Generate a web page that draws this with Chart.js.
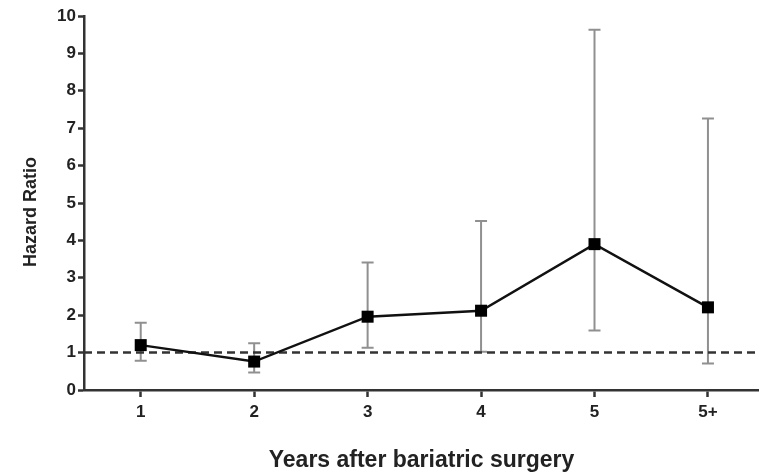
<!DOCTYPE html>
<html>
<head>
<meta charset="utf-8">
<script src="https://cdn.jsdelivr.net/npm/chart.js@4/dist/chart.umd.min.js"></script>
<style>
  html, body { margin: 0; padding: 0; background: #ffffff; }
  #wrap { width: 759px; height: 474px; position: relative; }
</style>
</head>
<body>
<div id="wrap"><canvas id="hazardChart"></canvas></div>
<script>
const yearLabels = ["1", "2", "3", "4", "5", "5+"];
const yearPositions = [1, 2, 3, 4, 5, 6];
const hazardRatio = [1.2, 0.76, 1.96, 2.12, 3.9, 2.21];
const lowerCI = [0.78, 0.47, 1.13, 1.02, 1.59, 0.71];
const upperCI = [1.8, 1.25, 3.41, 4.52, 9.63, 7.26];
const referenceLevel = 1;
const yTicks = [0, 1, 2, 3, 4, 5, 6, 7, 8, 9, 10];
const yTitle = "Hazard Ratio";

const axisColor = "#333333";
const textColor = "#222222";
const fontFamily = "'Liberation Sans', Arial, sans-serif";

// confidence intervals, drawn under the line
const errorBarPlugin = {
  id: "errorBars",
  beforeDatasetsDraw(chart) {
    const { ctx, scales } = chart;
    ctx.save();
    ctx.strokeStyle = "#909090";
    ctx.lineWidth = 2;
    yearPositions.forEach((pos, i) => {
      const x = scales.x.getPixelForValue(pos);
      const yLow = scales.y.getPixelForValue(lowerCI[i]);
      const yHigh = scales.y.getPixelForValue(upperCI[i]);
      ctx.beginPath();
      ctx.moveTo(x, yLow);
      ctx.lineTo(x, yHigh);
      ctx.moveTo(x - 6, yLow);
      ctx.lineTo(x + 6, yLow);
      ctx.moveTo(x - 6, yHigh);
      ctx.lineTo(x + 6, yHigh);
      ctx.stroke();
    });
    ctx.restore();
  }
};

// square markers on top of everything (kept out of point radius so no auto padding)
const squareMarkerPlugin = {
  id: "squareMarkers",
  afterDatasetsDraw(chart) {
    const { ctx } = chart;
    const meta = chart.getDatasetMeta(0);
    ctx.save();
    ctx.fillStyle = "#000000";
    meta.data.forEach((pt) => {
      ctx.fillRect(pt.x - 6, pt.y - 6, 12, 12);
    });
    ctx.restore();
  }
};

// y title sits a bit below the middle of the axis in the original
const yTitlePlugin = {
  id: "yTitle",
  afterDraw(chart) {
    const { ctx } = chart;
    ctx.save();
    ctx.translate(31, 212);
    ctx.rotate(-Math.PI / 2);
    ctx.fillStyle = textColor;
    ctx.font = "bold 18px " + fontFamily;
    ctx.textAlign = "center";
    ctx.textBaseline = "middle";
    ctx.fillText(yTitle, 0, 0);
    ctx.restore();
  }
};

new Chart(document.getElementById("hazardChart"), {
  type: "line",
  data: {
    datasets: [
      {
        label: "Hazard Ratio",
        data: yearPositions.map((x, i) => ({ x, y: hazardRatio[i] })),
        borderColor: "#111111",
        borderWidth: 2.5,
        pointRadius: 0,
        tension: 0,
        order: 1
      },
      {
        label: "Reference",
        data: [{ x: 0.5, y: referenceLevel }, { x: 6.5, y: referenceLevel }],
        borderColor: axisColor,
        borderWidth: 2.5,
        borderDash: [8, 5],
        pointRadius: 0,
        order: 2
      }
    ]
  },
  options: {
    responsive: true,
    maintainAspectRatio: false,
    animation: false,
    layout: { padding: { top: 16, right: 0, bottom: 0, left: 22 } },
    plugins: {
      legend: { display: false },
      tooltip: { enabled: false }
    },
    scales: {
      x: {
        type: "linear",
        min: 0.5,
        max: 6.45,
        afterBuildTicks: (axis) => {
          axis.ticks = yearPositions.map((v) => ({ value: v }));
        },
        afterFit: (axis) => { axis.height = 84; },
        grid: {
          drawOnChartArea: false,
          tickLength: 7,
          tickWidth: 2.5,
          tickColor: axisColor
        },
        border: { color: axisColor, width: 2.5 },
        ticks: {
          color: textColor,
          padding: 5,
          font: { family: fontFamily, size: 17, weight: "bold" },
          callback: (value) => yearLabels[yearPositions.indexOf(value)] ?? ""
        },
        title: {
          display: true,
          text: "Years after bariatric surgery",
          color: textColor,
          padding: { top: 0, bottom: 0 },
          font: { family: fontFamily, size: 23, weight: "bold" }
        }
      },
      y: {
        min: 0,
        max: 10,
        afterBuildTicks: (axis) => {
          axis.ticks = yTicks.map((v) => ({ value: v }));
        },
        afterFit: (axis) => { axis.width = 62; },
        grid: {
          drawOnChartArea: false,
          tickLength: 6,
          tickWidth: 2.5,
          tickColor: axisColor
        },
        border: { color: axisColor, width: 2.5 },
        ticks: {
          color: textColor,
          padding: 2,
          font: { family: fontFamily, size: 17, weight: "bold" }
        }
      }
    }
  },
  plugins: [errorBarPlugin, squareMarkerPlugin, yTitlePlugin]
});
</script>
</body>
</html>
